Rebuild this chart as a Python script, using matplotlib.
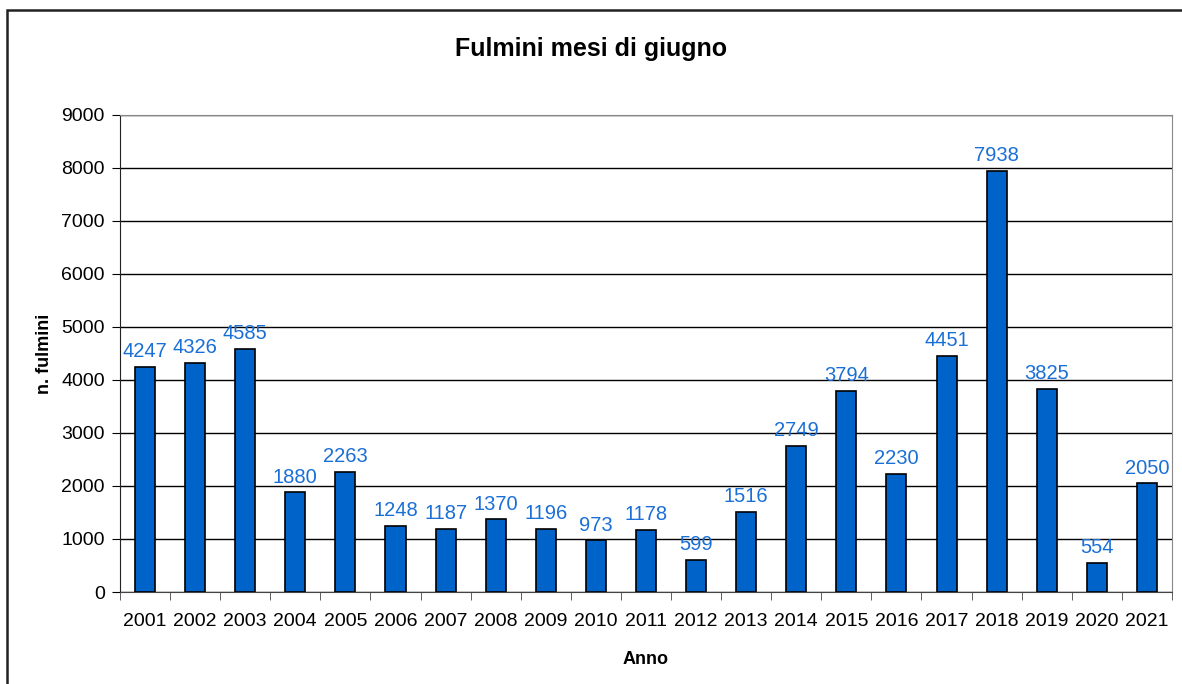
import matplotlib.pyplot as plt
from matplotlib.patches import Rectangle
import numpy as np

plt.rcParams['font.family'] = ['Liberation Sans', 'DejaVu Sans']

anni = [str(a) for a in range(2001, 2022)]
fulmini = [4247, 4326, 4585, 1880, 2263, 1248, 1187, 1370, 1196, 973, 1178,
           599, 1516, 2749, 3794, 2230, 4451, 7938, 3825, 554, 2050]

barcolor = '#0063CA'
labelcolor = '#1A6FD6'

fig = plt.figure(figsize=(11.82, 6.84), dpi=100)
ax = fig.add_axes([0.1015, 0.1345, 0.89, 0.6974])

x = np.arange(len(anni))
ax.bar(x, fulmini, width=0.4, color=barcolor, edgecolor='black', linewidth=1.2, zorder=3)
for xi, v in zip(x, fulmini):
    ax.text(xi, v + 110, str(v), ha='center', va='bottom', color=labelcolor, fontsize=14.5, zorder=4)

ax.set_xlim(-0.5, len(anni) - 0.5)
ax.set_ylim(0, 9000)
ax.set_yticks(range(0, 9001, 1000))
ax.yaxis.grid(True, color='black', linewidth=1)
ax.set_axisbelow(True)

# ticks between the categories, labels centred under bars
ax.set_xticks(x)
ax.set_xticklabels(anni, fontsize=14)
ax.tick_params(axis='x', length=0, pad=15)
ax.set_xticks(np.arange(-0.5, len(anni)), minor=True)
ax.tick_params(axis='x', which='minor', length=6, direction='out', color='#444444')
ax.tick_params(axis='y', labelsize=14, length=6, direction='out', pad=5)

ax.spines['top'].set_color('#888888')
ax.spines['right'].set_color('#888888')
ax.spines['left'].set_color('#222222')
ax.spines['bottom'].set_color('#444444')

ax.set_xlabel('Anno', fontsize=13, fontweight='bold', labelpad=15)
ax.set_ylabel('n. fulmini', fontsize=13, fontweight='bold', labelpad=6)
fig.text(0.5, 0.928, 'Fulmini mesi di giugno', ha='center', va='center',
         fontsize=18, fontweight='bold')

# chart frame
fig.patches.append(Rectangle((7 / 1182, -0.1), 1.2, 1.1 - 10 / 684, transform=fig.transFigure,
                             fill=False, edgecolor='#222222', linewidth=1.8))

fig.savefig('out.png', dpi=100)
